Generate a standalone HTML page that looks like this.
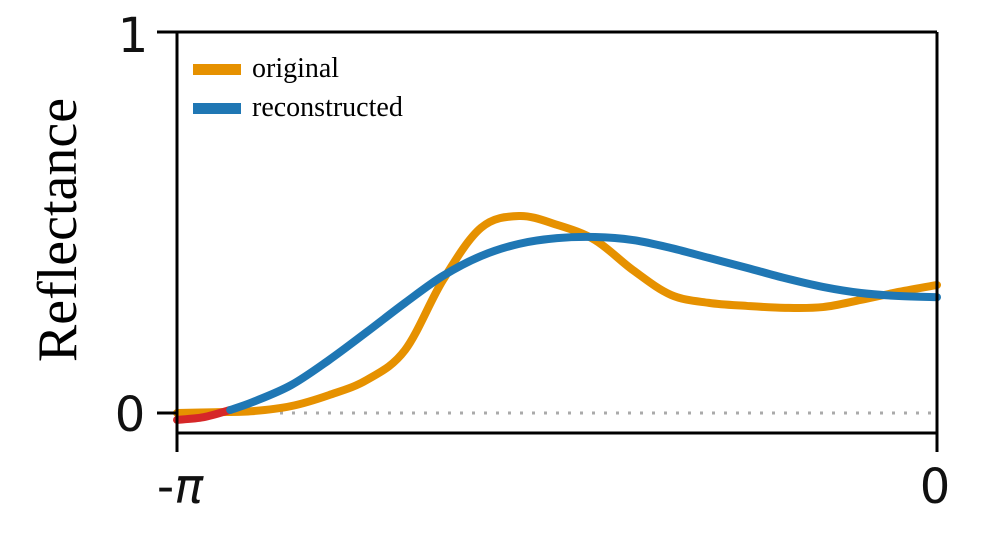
<!DOCTYPE html>
<html><head><meta charset="utf-8"><style>
body{margin:0;background:#fff;width:983px;height:535px;overflow:hidden}
svg{display:block}
.tk{font-family:"DejaVu Sans","Liberation Sans",sans-serif;font-size:48px;fill:#111}
.sr{font-family:"Liberation Serif",serif;fill:#000}
</style></head><body>
<svg id="chart" width="983" height="535" viewBox="0 0 983 535">
<g id="plot"></g>
<line x1="177" y1="32" x2="177" y2="452" stroke="#000" stroke-width="3"/>
<line x1="157" y1="32" x2="937" y2="32" stroke="#000" stroke-width="3"/>
<line x1="937" y1="32" x2="937" y2="452" stroke="#000" stroke-width="3"/>
<line x1="177" y1="433" x2="937" y2="433" stroke="#000" stroke-width="3"/>
<line x1="157" y1="413" x2="177" y2="413" stroke="#000" stroke-width="3"/>
<text class="tk" x="133" y="52" text-anchor="middle">1</text>
<text class="tk" x="130" y="431" text-anchor="middle">0</text>
<text class="tk" x="180" y="503" text-anchor="middle">-<tspan font-style="italic">π</tspan></text>
<text class="tk" x="935" y="503" text-anchor="middle">0</text>
<text class="sr" font-size="56" transform="translate(76,230) rotate(-90)" text-anchor="middle">Reflectance</text>
<g>
<rect x="193" y="64" width="48" height="11" fill="#e69100"/>
<text class="sr" x="252" y="77" font-size="28">original</text>
<rect x="193" y="103" width="48" height="11" fill="#1f77b4"/>
<text class="sr" x="252" y="116" font-size="28">reconstructed</text>
</g>
</svg>
<script>
const tOrig=[0,0.05,0.1,0.15,0.2,0.25,0.3,0.35,0.4,0.45,0.5,0.55,0.6,0.65,0.7,0.75,0.8,0.85,0.9,0.95,1.0];
const original=[0,0.002,0.005,0.018,0.047,0.087,0.165,0.349,0.486,0.517,0.494,0.454,0.375,0.310,0.289,0.281,0.276,0.278,0.297,0.318,0.336];
const tRec=[0.07,0.1,0.15,0.2,0.25,0.3,0.35,0.4,0.45,0.5,0.55,0.6,0.65,0.7,0.75,0.8,0.85,0.9,0.95,1.0];
const reconstructed=[0.008,0.029,0.073,0.139,0.213,0.289,0.360,0.412,0.444,0.459,0.462,0.454,0.433,0.407,0.381,0.354,0.331,0.315,0.307,0.304];
const tNeg=[0,0.035,0.07];
const negative=[-0.018,-0.011,0.008];
const X=t=>177+t*760, Y=v=>413-v*381;
const NS='http://www.w3.org/2000/svg', g=document.getElementById('plot');
function path(ts,vs){const p=ts.map((t,i)=>[X(t),Y(vs[i])]);let d='M'+p[0];
for(let i=0;i<p.length-1;i++){const a=p[i-1]||p[i],b=p[i],c=p[i+1],e=p[i+2]||c;
d+=' C'+(b[0]+(c[0]-a[0])/6)+','+(b[1]+(c[1]-a[1])/6)+' '+(c[0]-(e[0]-b[0])/6)+','+(c[1]-(e[1]-b[1])/6)+' '+c;}return d;}
const z=document.createElementNS(NS,'line');


z.setAttribute('x1',280);z.setAttribute('x2',937);z.setAttribute('y1',Y(0));z.setAttribute('y2',Y(0));
z.setAttribute('stroke','#aaa');z.setAttribute('stroke-width','3');z.setAttribute('stroke-dasharray','3 9');g.appendChild(z);
function add(name,ts,vs,col){const el=document.createElementNS(NS,'path');


el.setAttribute('d',path(ts,vs));el.setAttribute('fill','none');el.setAttribute('stroke',col);el.setAttribute('stroke-width','8');el.setAttribute('stroke-linecap','round');g.appendChild(el);}
add('original-line',tOrig,original,'#e69100');
add('reconstructed-negative-segment',tNeg,negative,'#d62728');
add('reconstructed-line',tRec,reconstructed,'#1f77b4');
</script>
</body></html>
